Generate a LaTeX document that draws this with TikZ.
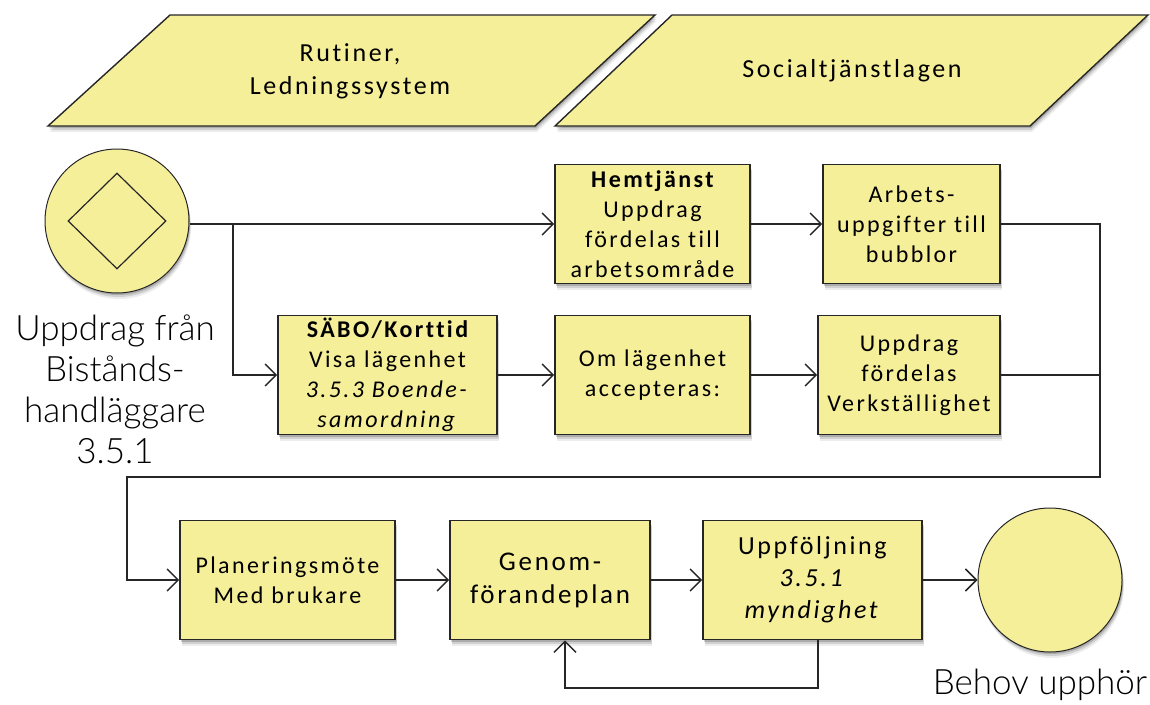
\documentclass[tikz,border=0pt]{standalone}
\usepackage{fontspec}
\setmainfont{Carlito}[Ligatures=CommonOff]
\newfontfamily\boxfont{Carlito}[LetterSpace=10,Ligatures=CommonOff]
\newfontfamily\labelfont{Lato Light}[Ligatures=CommonOff]
\usetikzlibrary{arrows.meta,shadows,shapes.geometric}

\definecolor{boxfill}{HTML}{F6EF9A}
\definecolor{linec}{HTML}{262626}

\tikzset{
  softshadow/.style={
    drop shadow={shadow xshift=1pt,shadow yshift=-2pt,opacity=.18,fill=black},
    drop shadow={shadow xshift=1.5pt,shadow yshift=-4pt,opacity=.12,fill=black},
    drop shadow={shadow xshift=2pt,shadow yshift=-6pt,opacity=.07,fill=black}},
  proc/.style={draw=linec,line width=1.6pt,fill=boxfill,minimum height=119pt,
    inner sep=0pt,align=center,softshadow,
    font=\boxfont\fontsize{24}{30}\selectfont},
  para/.style={draw=linec,line width=1.4pt,fill=boxfill,softshadow},
  paratext/.style={align=center,font=\boxfont\fontsize{26}{33}\selectfont},
  event/.style={circle,draw=linec,line width=1pt,fill=boxfill,minimum size=144pt,softshadow},
  biglabel/.style={align=center,font=\labelfont\fontsize{35}{41}\selectfont},
  line/.style={draw=linec,line width=1.5pt},
  conn/.style={line,-{Straight Barb[length=11pt,width=22pt,line width=1.5pt]}},
}

\begin{document}
\begin{tikzpicture}[x=1pt,y=-1pt]
\useasboundingbox (0,0) rectangle (1150,704);

% governing documents
\path[para] (170,15) -- (655,15) -- (535,126) -- (48,126) -- cycle;
\node[paratext] (rutiner) at (350,71) {Rutiner,\\Ledningssystem};
\path[para] (672,15) -- (1148,15) -- (1030,126) -- (555,126) -- cycle;
\node[paratext] (sol) at (852,71) {Socialtjänstlagen};

% start event
\node[event] (start) at (117,221) {};
\node[diamond,draw=linec,line width=1.2pt,fill=boxfill,minimum width=98pt,minimum height=96pt,inner sep=0pt] (gate) at (start) {};
\node[biglabel] (startlbl) at (115,389) {Uppdrag från\\Bistånds-\\handläggare\\3.5.1};

% first row: home care
\node[proc,minimum width=195pt] (hem) at (652.5,224) {{\bfseries Hemtjänst}\\Uppdrag\\fördelas till\\arbetsområde};
\node[proc,minimum width=177pt] (arb) at (911.5,224) {Arbets-\\uppgifter till\\bubblor};

% second row: residential care
\node[proc,minimum width=219pt] (sabo) at (387.5,375) {{\bfseries SÄBO/Korttid}\\Visa lägenhet\\\textit{3.5.3 Boende-}\\\textit{samordning}};
\node[proc,minimum width=195pt] (om) at (652.5,375) {Om lägenhet\\accepteras:};
\node[proc,minimum width=182pt] (verk) at (909,375) {Uppdrag\\fördelas\\Verkställighet};

% third row: execution
\node[proc,minimum width=215pt] (plan) at (287.5,580) {Planeringsmöte\\Med brukare};
\node[proc,minimum width=200pt,font=\boxfont\fontsize{27}{33}\selectfont] (genom) at (550,580) {Genom-\\förandeplan};
\node[proc,minimum width=219pt,font=\boxfont\fontsize{26}{32}\selectfont] (upf) at (812.5,580) {Uppföljning\\\textit{3.5.1}\\\textit{myndighet}};

% end event
\node[event] (stop) at (1050,580) {};
\node[biglabel] (stoplbl) at (1040,685) {Behov upphör};

% routing points
\coordinate (split) at (233,224);
\coordinate (railtop) at (1100,224);
\coordinate (railbot) at (1100,477);
\coordinate (railleft) at (127,477);
\coordinate (fbr) at (818,688);
\coordinate (fbl) at (565,688);

% connectors
\draw[conn] (start.east |- split) -- (hem.west);
\draw[conn] (split) |- (sabo.west);
\draw[conn] (hem) -- (arb);
\draw[conn] (sabo) -- (om);
\draw[conn] (om) -- (verk);
\draw[line] (verk.east) -- (verk.east -| railtop);
\draw[conn,line width=2pt] (arb.east) -- (railtop) -- (railbot) -- (railleft) |- (plan.west);
\draw[conn] (plan) -- (genom);
\draw[conn] (genom) -- (upf);
\draw[conn] (upf.east) -- (stop.west);
\draw[conn] (upf.south -| fbr) -- (fbr) -- (fbl) -- (genom.south -| fbl);
\end{tikzpicture}
\end{document}
